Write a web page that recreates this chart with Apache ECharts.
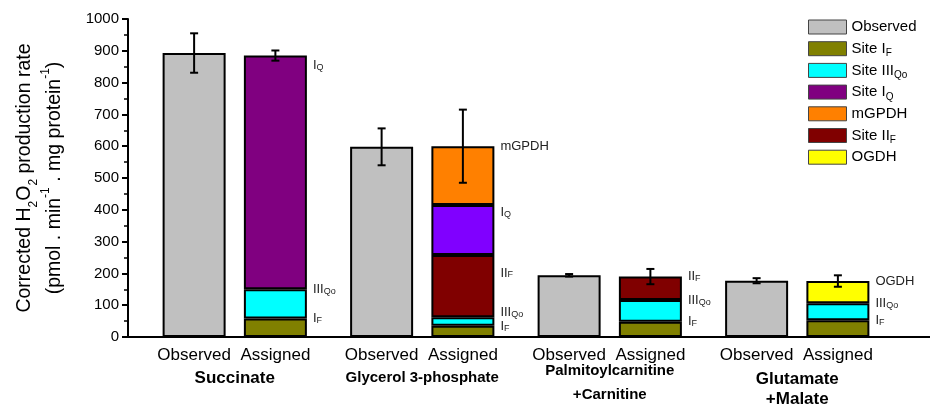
<!DOCTYPE html>
<html><head><meta charset="utf-8">
<script src="https://cdn.jsdelivr.net/npm/echarts@6/dist/echarts.min.js"></script>
<style>html,body{margin:0;padding:0;background:#fff}#c{width:930px;height:404px}</style>
</head><body><div id="c"></div>
<script>
// ---- data ----
const substrates = ['Succinate', 'Glycerol 3-phosphate', 'Palmitoylcarnitine\n+Carnitine', 'Glutamate\n+Malate'];
const observed    = [893, 598, 194, 177];
const observedErr = [62, 58, 4, 8];
const siteIF      = [58, 35, 48, 53];
const siteIIIQo   = [92, 27, 68, 53];
const siteIIF     = [null, 196, 74, null];
const siteIQ      = [735, 157, null, null];
const mGPDH       = [null, 185, null, null];
const OGDH        = [null, null, null, 70];
const assignedErr = [16, 115, 24, 18];
const yMin = 0, yMax = 1000, yStep = 100;

// ---- layout / style ----
const FONT = '"Liberation Sans", Arial, sans-serif';
const BAR_W = 63, BAR_GAP = 0.29;
const barOffset = BAR_W * (1 + BAR_GAP) / 2;
const LABEL_DX = 6;
// small vertical nudges (px) for the segment annotations, per series / category
const labelNudge = {
  'Site IQ': [10, 7, 0, 0],
  'Site IIF': [0, 18, 0, 0],
  'Site IIIQo': [0, -5, 0, 0],
  'Site IF': [0, 1, 0, 0]
};

const assignedTotal = substrates.map((_, i) =>
  [siteIF, siteIIIQo, siteIIF, siteIQ, mGPDH, OGDH].reduce((s, a) => s + (a[i] || 0), 0));

const segRich = {
  n: {fontSize: 13, lineHeight: 22, fontFamily: FONT, color: '#222'},
  s: {fontSize: 9, lineHeight: 9, verticalAlign: 'bottom', fontFamily: FONT, color: '#222'}
};
function segLabel(text) {
  return {
    show: true, position: ['100%', 0], align: 'left', verticalAlign: 'middle',
    formatter: text, rich: segRich, fontFamily: FONT, fontSize: 13, color: '#222'
  };
}
const border = {borderColor: '#000', borderWidth: 2};

function stackSeries(name, data, color, labelText) {
  const nudge = labelNudge[name] || [];
  return {
    name, type: 'bar', stack: 'assigned', data, barWidth: BAR_W, barGap: (BAR_GAP * 100) + '%',
    itemStyle: Object.assign({color}, border), label: segLabel(labelText),
    labelLayout: p => ({dx: LABEL_DX, dy: nudge[p.dataIndex] || 0}),
    emphasis: {disabled: true}
  };
}

const legendNames = {
  'Observed': 'Observed',
  'Site IF': 'Site I{s|F}',
  'Site IIIQo': 'Site III{s|Qo}',
  'Site IQ': 'Site I{s|Q}',
  'mGPDH': 'mGPDH',
  'Site IIF': 'Site II{s|F}',
  'OGDH': 'OGDH'
};

const xRich = {
  o:  {fontSize: 17, lineHeight: 20, width: BAR_W * (1 + BAR_GAP), align: 'center', fontFamily: FONT, color: '#000'},
  a:  {fontSize: 17, lineHeight: 20, width: BAR_W * (1 + BAR_GAP), align: 'center', fontFamily: FONT, color: '#000'},
  g0: {fontSize: 17, lineHeight: 26, fontWeight: 'bold', fontFamily: FONT, color: '#000'},
  g1: {fontSize: 15, lineHeight: 26, fontWeight: 'bold', fontFamily: FONT, color: '#000'},
  p1: {fontSize: 15, lineHeight: 12, fontWeight: 'bold', fontFamily: FONT, color: '#000'},
  p2: {fontSize: 15, lineHeight: 36, fontWeight: 'bold', fontFamily: FONT, color: '#000'},
  m1: {fontSize: 17, lineHeight: 28, fontWeight: 'bold', fontFamily: FONT, color: '#000'},
  m2: {fontSize: 17, lineHeight: 12, fontWeight: 'bold', fontFamily: FONT, color: '#000'}
};
const groupStyles = [['g0'], ['g1'], ['p1', 'p2'], ['m1', 'm2']];

const errData = [];
substrates.forEach((_, i) => {
  errData.push([i, observed[i], observedErr[i], -1]);
  errData.push([i, assignedTotal[i], assignedErr[i], 1]);
});

const chart = echarts.init(document.getElementById('c'), null, {renderer: 'canvas'});
chart.setOption({
  animation: false,
  backgroundColor: '#fff',
  textStyle: {fontFamily: FONT},
  grid: [
    {left: 141, right: 39, top: 19, bottom: 67, outerBoundsMode: 'none', containLabel: false},
    {left: 128, right: 0, top: 19, bottom: 67, outerBoundsMode: 'none', containLabel: false}
  ],
  legend: {
    orient: 'vertical', left: 808, top: 17, padding: 0,
    itemWidth: 38, itemHeight: 14, itemGap: 1.7, icon: 'rect',
    itemStyle: {borderColor: '#444', borderWidth: 1},
    data: ['Observed', 'Site IF', 'Site IIIQo', 'Site IQ', 'mGPDH', 'Site IIF', 'OGDH'],
    formatter: n => legendNames[n],
    textStyle: {
      fontSize: 15, color: '#000', fontFamily: FONT, lineHeight: 20,
      rich: {s: {fontSize: 10, lineHeight: 10, verticalAlign: 'bottom', fontFamily: FONT, color: '#000'}}
    }
  },
  xAxis: [
    {
      type: 'category', gridIndex: 0, data: substrates,
      axisLine: {show: false}, axisTick: {show: false}, splitLine: {show: false},
      axisLabel: {
        interval: 0, margin: 8, rich: xRich,
        formatter: (v, i) => {
          const parts = v.split('\n');
          return '{o|Observed}{a|Assigned}\n' + parts.map((p, k) => '{' + groupStyles[i][k] + '|' + p + '}').join('\n');
        }
      }
    },
    {
      type: 'value', gridIndex: 1, min: 0, max: 1,
      axisLine: {show: true, lineStyle: {color: '#000', width: 2}},
      axisTick: {show: false}, axisLabel: {show: false}, splitLine: {show: false}
    }
  ],
  yAxis: [
    {type: 'value', gridIndex: 0, min: yMin, max: yMax, interval: yStep, show: false},
    {
      type: 'value', gridIndex: 1, min: yMin, max: yMax, interval: yStep,
      axisLine: {show: true, lineStyle: {color: '#000', width: 2}},
      axisTick: {show: true, length: 6, lineStyle: {color: '#000', width: 2}},
      minorTick: {show: true, splitNumber: 2, length: 4, lineStyle: {color: '#000', width: 1.5}},
      splitLine: {show: false},
      axisLabel: {fontSize: 15, color: '#000', margin: 9, fontFamily: FONT, formatter: v => String(v)},
      name: '{n|Corrected H}{s|2}{n|O}{s|2}{n| production rate}\n{n|(pmol . min}{p|-1}{n| . mg protein}{p|-1}{n|)}',
      nameLocation: 'middle', nameRotate: 90, nameGap: 58,
      nameTextStyle: {
        fontFamily: FONT, color: '#000',
        rich: {
          n: {fontSize: 19.5, lineHeight: 30, fontFamily: FONT, color: '#000'},
          s: {fontSize: 12, lineHeight: 16, verticalAlign: 'bottom', fontFamily: FONT, color: '#000'},
          p: {fontSize: 12, lineHeight: 16, verticalAlign: 'top', fontFamily: FONT, color: '#000'}
        }
      }
    }
  ],
  series: [
    {
      name: 'Observed', type: 'bar', stack: 'observed', data: observed,
      barWidth: BAR_W, barGap: (BAR_GAP * 100) + '%',
      itemStyle: Object.assign({color: '#c0c0c0'}, border), emphasis: {disabled: true}
    },
    stackSeries('Site IF', siteIF, '#808000', 'I{s|F}'),
    stackSeries('Site IIIQo', siteIIIQo, '#00ffff', 'III{s|Qo}'),
    stackSeries('Site IIF', siteIIF, '#800000', 'II{s|F}'),
    stackSeries('Site IQ', siteIQ.map((v, i) => (i === 1 && v != null) ? {value: v, itemStyle: {color: '#8000ff'}} : v), '#800080', 'I{s|Q}'),
    stackSeries('mGPDH', mGPDH, '#ff8000', 'mGPDH'),
    stackSeries('OGDH', OGDH, '#ffff00', 'OGDH'),
    {
      name: 'errors', type: 'custom', xAxisIndex: 0, yAxisIndex: 0, z: 5,
      data: errData, encode: {x: 0, y: 1},
      renderItem: (params, api) => {
        const i = api.value(0), v = api.value(1), e = api.value(2), side = api.value(3);
        const top = api.coord([i, v + e]);
        const bot = api.coord([i, v - e]);
        const x = top[0] + side * barOffset;
        const cap = 4;
        const st = {stroke: '#000', lineWidth: 2};
        return {
          type: 'group', children: [
            {type: 'line', shape: {x1: x, y1: top[1], x2: x, y2: bot[1]}, style: st},
            {type: 'line', shape: {x1: x - cap, y1: top[1], x2: x + cap, y2: top[1]}, style: st},
            {type: 'line', shape: {x1: x - cap, y1: bot[1], x2: x + cap, y2: bot[1]}, style: st}
          ]
        };
      }
    }
  ]
});
</script></body></html>
